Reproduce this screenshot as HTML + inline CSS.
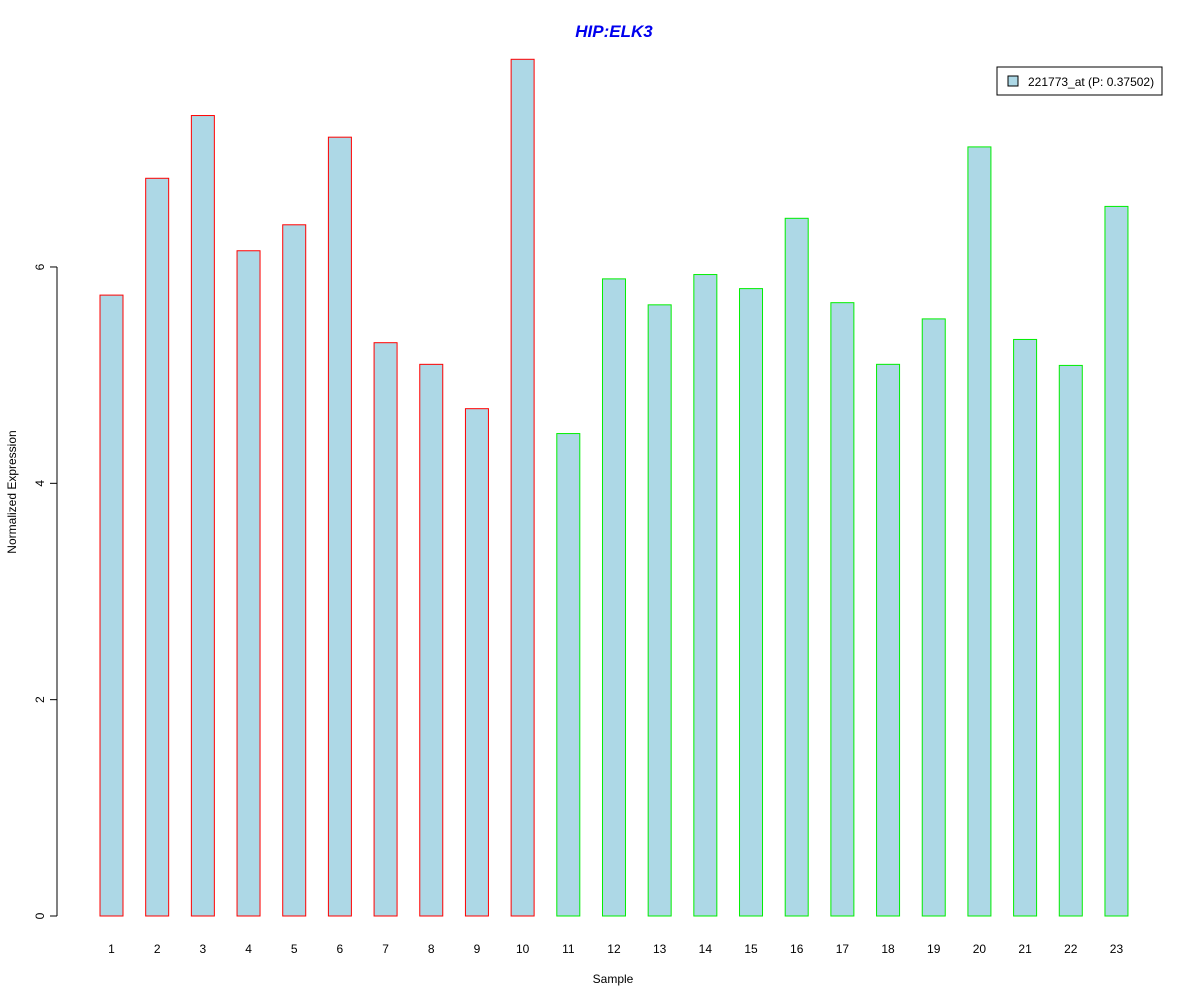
<!DOCTYPE html>
<html><head><meta charset="utf-8"><style>
body{margin:0;background:#fff}
svg{display:block;font-family:"Liberation Sans",Arial,sans-serif}
</style></head><body>
<svg id="chart" width="1200" height="1000">
<text x="614" y="37" text-anchor="middle" font-size="17" font-weight="bold" font-style="italic" fill="#0000ee">HIP:ELK3</text>
<text x="613" y="983" text-anchor="middle" font-size="12">Sample</text>
<text transform="translate(16,492) rotate(-90)" text-anchor="middle" font-size="12">Normalized Expression</text>
<g id="yaxis"></g>
<g id="bars"></g>
<g id="xlabels"></g>
<g>
<rect x="997" y="67" width="165" height="28" fill="#fff" stroke="#000"/>
<rect x="1008" y="76" width="10" height="10" fill="#add8e6" stroke="#000"/>
<text x="1028" y="86" font-size="12">221773_at (P: 0.37502)</text>
</g>
</svg>
<script>
const categories=["1","2","3","4","5","6","7","8","9","10","11","12","13","14","15","16","17","18","19","20","21","22","23"];
const values=[5.74,6.82,7.40,6.15,6.39,7.20,5.30,5.10,4.69,7.92,4.46,5.89,5.65,5.93,5.80,6.45,5.67,5.10,5.52,7.11,5.33,5.09,6.56];
const groups=["a","a","a","a","a","a","a","a","a","a","b","b","b","b","b","b","b","b","b","b","b","b","b"];
const yTicks=[0,2,4,6];
const NS="http://www.w3.org/2000/svg";
function y(v){return 916-v*108.17;}
function x(i){return 111.5+i*45.68;}
const ya=document.getElementById('yaxis');
let l=document.createElementNS(NS,'line');


l.setAttribute('x1',57);l.setAttribute('x2',57);l.setAttribute('y1',y(0));l.setAttribute('y2',y(yTicks[yTicks.length-1]));l.setAttribute('stroke','#000');
ya.appendChild(l);
yTicks.forEach(t=>{
 const tk=document.createElementNS(NS,'line');
 
 
 tk.setAttribute('x1',50);tk.setAttribute('x2',57);tk.setAttribute('y1',y(t));tk.setAttribute('y2',y(t));tk.setAttribute('stroke','#000');
 ya.appendChild(tk);
 const tx=document.createElementNS(NS,'text');
 
 
 tx.setAttribute('transform',`translate(44,${y(t)}) rotate(-90)`);tx.setAttribute('text-anchor','middle');tx.setAttribute('font-size','12');
 tx.textContent=t;ya.appendChild(tx);
});
const bg=document.getElementById('bars'),xl=document.getElementById('xlabels');
values.forEach((v,i)=>{
 const r=document.createElementNS(NS,'rect');
 
 
 r.setAttribute('x',x(i)-11.5);r.setAttribute('width',23);r.setAttribute('y',y(v));r.setAttribute('height',y(0)-y(v));
 r.setAttribute('fill','#add8e6');r.setAttribute('stroke',groups[i]==='a'?'#ff0000':'#00ee00');
 bg.appendChild(r);
 const t=document.createElementNS(NS,'text');
 
 
 t.setAttribute('x',x(i));t.setAttribute('y',953);t.setAttribute('text-anchor','middle');t.setAttribute('font-size','12');
 t.textContent=categories[i];xl.appendChild(t);
});
</script>
</body></html>
